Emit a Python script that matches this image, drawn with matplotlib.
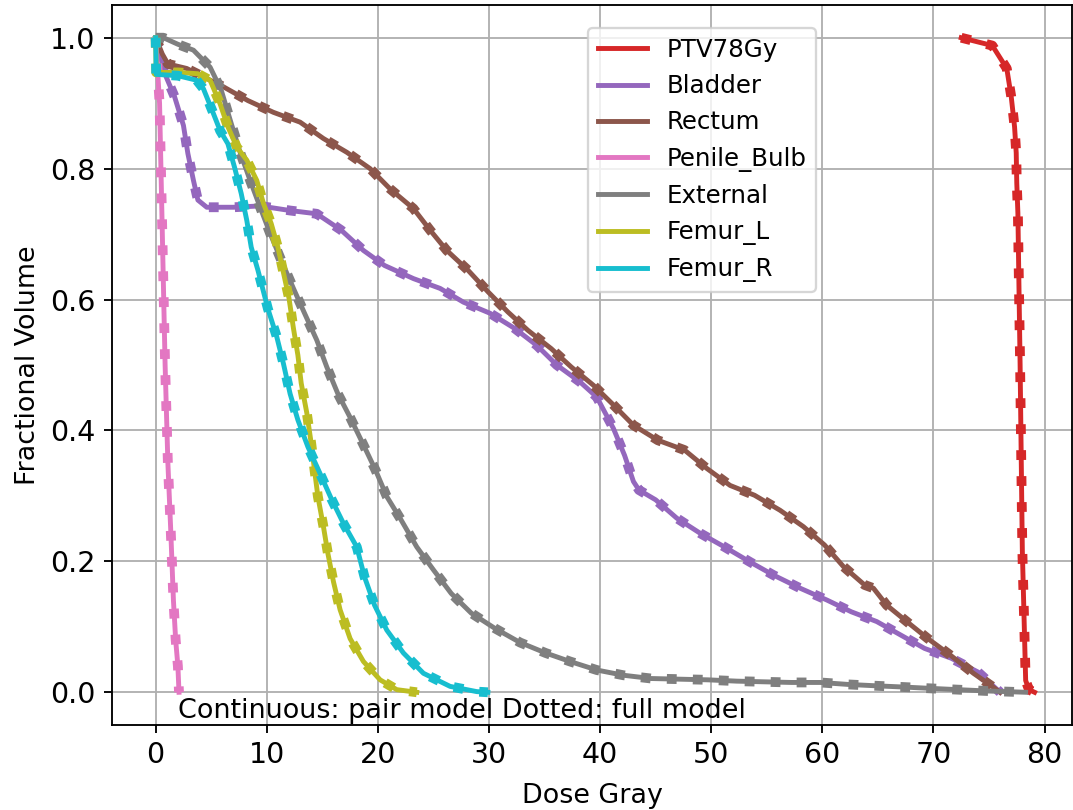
#!/usr/bin/env python3
import numpy as np
import matplotlib
matplotlib.use('Agg')
import matplotlib.pyplot as plt

# DVH curves: dose (Gy) and fractional volume
structures = ['PTV78Gy', 'Bladder', 'Rectum', 'Penile_Bulb', 'External', 'Femur_L', 'Femur_R']
colors = ['C3', 'C4', 'C5', 'C6', 'C7', 'C8', 'C9']

ptv_dose = [72.5, 75.3, 76.6, 77.0, 77.3, 77.45, 77.5, 77.6, 77.8, 78.0, 78.3, 78.6, 79.1]
ptv_vol = [1.0, 0.988, 0.953, 0.91, 0.864, 0.824, 0.778, 0.732, 0.5, 0.217, 0.018, 0.004, 0.0]

bladder_dose = [0, 0.4, 0.7, 1.7, 2.5, 2.9, 3.4, 3.8, 4.6, 7.0, 9.4, 12.1, 14.5, 16.7, 18.7, 20.6,
                23.2, 25.6, 27.7, 30.1, 32.3, 34.3, 36.1, 38.2, 39.7, 41.2, 42.2, 43.0, 43.5,
                45.0, 46.9, 49.0, 51.2, 53.5, 55.6, 58.0, 60.4, 62.6, 64.9, 67.1, 69.2, 71.6,
                74.0, 76.0]
bladder_vol = [1.0, 0.975, 0.95, 0.91, 0.866, 0.823, 0.782, 0.752, 0.741, 0.741, 0.743, 0.736,
               0.731, 0.706, 0.675, 0.652, 0.632, 0.617, 0.596, 0.579, 0.556, 0.53, 0.5, 0.474,
               0.451, 0.403, 0.362, 0.322, 0.309, 0.294, 0.266, 0.243, 0.222, 0.199, 0.179,
               0.159, 0.141, 0.123, 0.108, 0.087, 0.067, 0.052, 0.031, 0.0]

rectum_dose = [0, 0.6, 1.1, 2.8, 6.1, 8.3, 10.6, 13.0, 15.1, 17.2, 19.3, 21.1, 23.2, 24.7, 26.2,
               28.1, 29.9, 31.7, 33.5, 35.6, 37.4, 39.4, 41.2, 43.0, 45.2, 47.6, 49.6, 51.7,
               53.9, 56.2, 58.3, 60.2, 61.9, 63.8, 64.6, 65.8, 67.6, 69.5, 71.5, 73.6, 75.2,
               76.0]
rectum_vol = [1.0, 0.975, 0.96, 0.953, 0.925, 0.904, 0.886, 0.871, 0.846, 0.825, 0.8, 0.769,
              0.739, 0.706, 0.675, 0.645, 0.612, 0.581, 0.553, 0.525, 0.497, 0.469, 0.439,
              0.408, 0.385, 0.37, 0.342, 0.316, 0.301, 0.278, 0.253, 0.225, 0.192, 0.164,
              0.159, 0.133, 0.108, 0.082, 0.057, 0.029, 0.01, 0.0]

penile_dose = [0, 0.35, 0.6, 0.85, 1.1, 1.35, 1.6, 1.8, 2.0, 2.1]
penile_vol = [1.0, 0.9, 0.7, 0.5, 0.35, 0.25, 0.14, 0.08, 0.04, 0.0]

external_dose = [0, 0.7, 2.0, 3.4, 4.9, 5.9, 6.8, 7.6, 8.5, 9.4, 10.3, 11.3, 12.4, 13.4, 14.5,
                 15.4, 16.4, 17.5, 18.7, 19.8, 20.8, 22.1, 23.5, 25.0, 26.6, 28.4, 30.5, 32.8,
                 35.1, 37.3, 39.7, 42.1, 44.6, 47.2, 49.7, 52.3, 54.7, 57.2, 59.8, 62.3, 64.7,
                 67.3, 69.7, 72.2, 74.8, 76.6, 78.3]
external_vol = [1.0, 1.0, 0.99, 0.981, 0.955, 0.92, 0.869, 0.825, 0.782, 0.741, 0.701, 0.66,
                0.617, 0.579, 0.538, 0.497, 0.456, 0.42, 0.378, 0.339, 0.299, 0.263, 0.222,
                0.187, 0.151, 0.121, 0.098, 0.076, 0.06, 0.047, 0.034, 0.026, 0.021, 0.02,
                0.019, 0.017, 0.016, 0.015, 0.015, 0.012, 0.01, 0.008, 0.006, 0.004, 0.002,
                0.001, 0.0]

femur_l_dose = [0, 0.05, 2.0, 3.8, 4.9, 5.8, 6.5, 7.3, 8.2, 9.1, 9.7, 10.4, 11.0, 12.0, 12.4,
                12.8, 13.1, 13.6, 14.0, 14.3, 14.6, 15.1, 15.5, 16.0, 16.6, 17.5, 18.7, 20.2,
                21.7, 23.5]
femur_l_vol = [1.0, 0.947, 0.947, 0.945, 0.935, 0.899, 0.864, 0.833, 0.813, 0.782, 0.747,
               0.716, 0.68, 0.602, 0.556, 0.515, 0.472, 0.427, 0.38, 0.339, 0.299, 0.253,
               0.212, 0.169, 0.126, 0.082, 0.047, 0.019, 0.004, 0.0]

femur_r_dose = [0, 0.05, 2.0, 3.7, 4.3, 5.2, 5.8, 6.5, 7.1, 7.7, 8.2, 8.6, 9.2, 10.1, 10.9,
                11.5, 12.1, 12.8, 13.7, 14.8, 15.8, 16.9, 18.1, 18.8, 19.7, 20.8, 22.3, 24.1,
                26.5, 28.9, 29.9]
femur_r_vol = [1.0, 0.944, 0.942, 0.935, 0.922, 0.884, 0.858, 0.838, 0.802, 0.762, 0.721,
               0.68, 0.645, 0.586, 0.543, 0.502, 0.456, 0.416, 0.375, 0.334, 0.296, 0.258,
               0.222, 0.176, 0.133, 0.095, 0.06, 0.029, 0.009, 0.001, 0.0]

doses = [ptv_dose, bladder_dose, rectum_dose, penile_dose, external_dose, femur_l_dose, femur_r_dose]
vols = [ptv_vol, bladder_vol, rectum_vol, penile_vol, external_vol, femur_l_vol, femur_r_vol]

fig = plt.figure(figsize=(1073/168, 810/168), dpi=168)
ax = fig.add_axes([112/1073, 1-725/810, 960/1073, 720/810])

for name, c, d, v in zip(structures, colors, doses, vols):
	ax.plot(d, v, color=c, lw=2.1, label=name)		# pair model
	ax.plot(d, v, color=c, lw=4.2, ls=':')			# full model

ax.set_xlim(-3.93, 82.47)
ax.set_ylim(-0.05, 1.05)
ax.tick_params(labelsize=12.2)
ax.set_xlabel('Dose Gray', fontsize=11.5, labelpad=6)
ax.set_ylabel('Fractional Volume', fontsize=11.5)
ax.text(2, -0.04, 'Continuous: pair model Dotted: full model', fontsize=11.6)
ax.legend(loc='upper left', bbox_to_anchor=(0.496, 0.968), borderaxespad=0, fontsize=10.5)
ax.grid()
plt.savefig('out.png', dpi=168)
